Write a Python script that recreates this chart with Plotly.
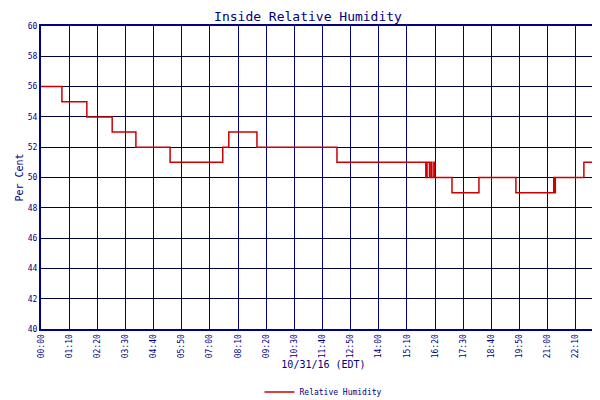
import plotly.graph_objects as go

# minutes since midnight where each step starts, and humidity held until next step
step_minutes = [0, 52, 114, 177, 236, 321, 452, 467, 537, 736,
                957, 960, 966, 970, 972, 977, 979, 983,
                1022, 1089, 1181, 1275, 1277, 1279, 1281, 1350, 1405]
humidity = [56, 55, 54, 53, 52, 51, 52, 53, 52, 51,
            50, 51, 50, 51, 50, 51, 50, 50,
            49, 50, 49, 50, 49, 50, 50, 51, 51]

tick_minutes = [i * 70 for i in range(21)] + [1404]
tick_labels = ["%02d:%02d" % (m // 60, m % 60) for m in tick_minutes[:-1]] + ["23:59"]

navy = "#000080"
fig = go.Figure()
fig.add_trace(go.Scatter(x=step_minutes, y=humidity, mode="lines", line_shape="hv",
                         line=dict(color="#cc0000", width=1.5), name="Relative Humidity"))

fig.update_layout(
    width=600, height=400, plot_bgcolor="white", paper_bgcolor="white",
    margin=dict(l=33, r=2, t=18, b=63),
    font=dict(family="DejaVu Sans Mono", color=navy, size=8),
    title=dict(text="Inside Relative Humidity", x=0.5, y=0.99, yanchor="top",
               font=dict(size=13, color=navy)),
    showlegend=True,
    legend=dict(orientation="h", x=0.5, xanchor="center", y=-0.16, yanchor="top",
                font=dict(size=8, color=navy)),
)
fig.update_xaxes(range=[0, 1405], tickvals=tick_minutes, ticktext=tick_labels, tickangle=-90,
                 automargin=False,
                 showgrid=True, gridcolor=navy, gridwidth=1, showline=True, linecolor=navy,
                 linewidth=2, mirror=True, zeroline=False,
                 title=dict(text="10/31/16 (EDT)", font=dict(size=10, color=navy), standoff=4))
fig.update_yaxes(range=[40, 60], dtick=2, showgrid=True, gridcolor="#000040", gridwidth=1,
                 automargin=False,
                 showline=True, linecolor=navy, linewidth=2, mirror=True, zeroline=False,
                 title=dict(text="Per Cent", font=dict(size=10, color=navy), standoff=2))
fig.write_html("out.html")
